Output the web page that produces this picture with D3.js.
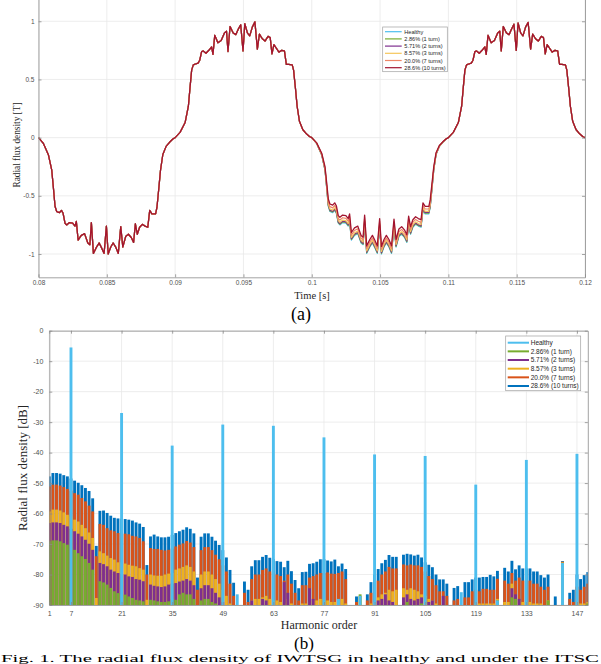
<!DOCTYPE html>
<html><head><meta charset="utf-8">
<script src="https://cdn.jsdelivr.net/npm/d3@7"></script>
<style>body{margin:0;background:#fff;} svg{display:block;}</style>
</head><body>
<svg id="chart" width="601" height="664"></svg>
<script>
// ================= Panel (a): radial flux density vs time =================
const timeTicks = [0.08,0.085,0.09,0.095,0.1,0.105,0.11,0.115,0.12];
const bTicks = [-1,-0.5,0,0.5,1];
const waveSeries = ["Healthy","2.86% (1 turn)","5.71% (2 turns)","8.57% (3 turns)","20.0% (7 turns)","28.6% (10 turns)"];
const waveColors = ["#4DBEEE","#77AC30","#7E2F8E","#F5C65A","#EE8666","#A2142F"];
const halfStarts = [0.08,0.09,0.10,0.11];
// sample instants inside each half cycle (ms from the half-cycle start)
const halfOffsetMs = [0,0.36,0.73,0.97,1.09,1.21,1.33,1.53,1.68,1.80,1.94,2.06,2.26,2.50,2.67,2.77,2.90,3.13,3.37,3.61,3.76,3.87,4.02,4.25,4.44,4.61,4.80,4.97,5.10,5.29,5.46,5.65,5.84,6.02,6.17,6.38,6.58,6.80,6.96,7.09,7.23,7.40,7.60,7.80,8.00,8.14,8.30,8.57,8.67,8.81,8.93,9.10,9.34,9.59,9.83,10.0];
// 0.08-0.09 s (all cases overlap)
const waveNeg1 = [0,-0.05,-0.15,-0.28,-0.43,-0.59,-0.635,-0.645,-0.625,-0.65,-0.735,-0.75,-0.73,-0.735,-0.76,-0.72,-0.88,-0.84,-0.825,-0.905,-0.92,-0.73,-0.995,-0.94,-0.905,-0.945,-0.995,-0.76,-1.0,-0.94,-0.905,-0.94,-0.995,-0.765,-0.94,-0.85,-0.83,-0.86,-0.90,-0.74,-0.83,-0.77,-0.745,-0.76,-0.77,-0.625,-0.655,-0.655,-0.60,-0.43,-0.28,-0.145,-0.075,-0.04,-0.012,0];
// 0.09-0.10 s (all cases overlap)
const wavePos1 = [0,0.045,0.13,0.27,0.43,0.58,0.625,0.635,0.64,0.665,0.74,0.745,0.725,0.755,0.78,0.715,0.88,0.815,0.835,0.90,0.915,0.74,0.955,0.90,0.885,0.93,0.97,0.745,0.98,0.90,0.875,0.95,0.995,0.76,0.89,0.85,0.83,0.87,0.86,0.72,0.80,0.77,0.735,0.75,0.745,0.63,0.63,0.625,0.58,0.42,0.27,0.14,0.07,0.035,0.01,0];
// 0.10-0.11 s, one row per case (faulted cases lifted)
const waveNeg2Healthy = [0,-0.05,-0.15,-0.28,-0.43,-0.59,-0.635,-0.645,-0.625,-0.65,-0.735,-0.75,-0.73,-0.735,-0.76,-0.72,-0.88,-0.84,-0.825,-0.905,-0.92,-0.73,-0.995,-0.94,-0.905,-0.945,-0.995,-0.76,-1.0,-0.94,-0.905,-0.94,-0.995,-0.765,-0.94,-0.85,-0.83,-0.86,-0.90,-0.74,-0.83,-0.77,-0.745,-0.76,-0.77,-0.625,-0.655,-0.655,-0.60,-0.43,-0.28,-0.145,-0.075,-0.04,-0.012,0];
const waveNeg2Turn1 = [0,-0.0495,-0.1485,-0.277,-0.4257,-0.584,-0.629,-0.639,-0.619,-0.644,-0.729,-0.744,-0.724,-0.729,-0.754,-0.714,-0.874,-0.834,-0.819,-0.899,-0.914,-0.724,-0.989,-0.934,-0.899,-0.939,-0.989,-0.754,-0.994,-0.934,-0.899,-0.934,-0.989,-0.759,-0.934,-0.844,-0.824,-0.854,-0.894,-0.734,-0.824,-0.764,-0.739,-0.754,-0.764,-0.619,-0.649,-0.649,-0.594,-0.4257,-0.277,-0.1435,-0.0742,-0.0396,-0.012,0];
const waveNeg2Turn2 = [0,-0.049,-0.147,-0.2745,-0.421,-0.578,-0.623,-0.633,-0.613,-0.638,-0.723,-0.738,-0.718,-0.723,-0.748,-0.708,-0.868,-0.828,-0.813,-0.893,-0.908,-0.718,-0.983,-0.928,-0.893,-0.933,-0.983,-0.748,-0.988,-0.928,-0.893,-0.928,-0.983,-0.753,-0.928,-0.838,-0.818,-0.848,-0.888,-0.728,-0.818,-0.758,-0.733,-0.748,-0.758,-0.613,-0.643,-0.643,-0.588,-0.421,-0.2745,-0.142,-0.0735,-0.039,-0.012,0];
const waveNeg2Turn3 = [0,-0.048,-0.1445,-0.27,-0.414,-0.568,-0.613,-0.623,-0.603,-0.628,-0.713,-0.728,-0.708,-0.713,-0.738,-0.698,-0.858,-0.818,-0.803,-0.883,-0.898,-0.708,-0.973,-0.918,-0.883,-0.923,-0.973,-0.738,-0.978,-0.918,-0.883,-0.918,-0.973,-0.743,-0.918,-0.828,-0.808,-0.838,-0.878,-0.718,-0.808,-0.748,-0.723,-0.738,-0.748,-0.603,-0.633,-0.633,-0.578,-0.414,-0.27,-0.1397,-0.072,-0.0385,-0.0116,0];
const waveNeg2Turn7 = [0,-0.0465,-0.1395,-0.260,-0.400,-0.549,-0.593,-0.603,-0.583,-0.608,-0.693,-0.708,-0.688,-0.693,-0.718,-0.678,-0.838,-0.798,-0.783,-0.863,-0.878,-0.688,-0.953,-0.898,-0.863,-0.903,-0.953,-0.718,-0.958,-0.898,-0.863,-0.898,-0.953,-0.723,-0.898,-0.808,-0.788,-0.818,-0.858,-0.698,-0.788,-0.728,-0.703,-0.718,-0.728,-0.583,-0.613,-0.613,-0.558,-0.400,-0.260,-0.135,-0.070,-0.037,-0.011,0];
const waveNeg2Turn10 = [0,-0.045,-0.134,-0.25,-0.383,-0.526,-0.570,-0.580,-0.560,-0.585,-0.670,-0.685,-0.665,-0.670,-0.695,-0.655,-0.815,-0.775,-0.760,-0.840,-0.855,-0.665,-0.930,-0.875,-0.840,-0.880,-0.930,-0.695,-0.935,-0.875,-0.840,-0.875,-0.930,-0.700,-0.875,-0.785,-0.765,-0.795,-0.835,-0.675,-0.765,-0.705,-0.680,-0.695,-0.705,-0.560,-0.590,-0.590,-0.535,-0.383,-0.250,-0.129,-0.067,-0.036,-0.011,0];
// 0.11-0.12 s (all cases overlap)
const wavePos2 = [0,0.045,0.13,0.27,0.43,0.58,0.625,0.635,0.64,0.665,0.74,0.745,0.725,0.755,0.78,0.715,0.88,0.815,0.835,0.90,0.915,0.745,0.955,0.90,0.885,0.93,0.975,0.75,0.985,0.90,0.875,0.95,0.99,0.76,0.89,0.85,0.83,0.87,0.86,0.72,0.80,0.77,0.735,0.75,0.745,0.63,0.63,0.625,0.58,0.42,0.27,0.14,0.07,0.035,0.01,0];
const waveNeg2BySeries = [waveNeg2Healthy,waveNeg2Turn1,waveNeg2Turn2,waveNeg2Turn3,waveNeg2Turn7,waveNeg2Turn10];

// ================= Panel (b): harmonic spectrum =================
const harmonicTicks = [1,7,21,35,49,63,77,91,105,119,133,147];
const dbTicks = [0,-10,-20,-30,-40,-50,-60,-70,-80,-90];
const specSeries = ["Healthy","2.86% (1 turn)","5.71% (2 turns)","8.57% (3 turns)","20.0% (7 turns)","28.6% (10 turns)"];
const specColors = ["#4DBEEE","#77AC30","#7E2F8E","#EDB120","#D95319","#0072BD"];
// healthy spectrum: only the listed harmonics have a bar above -90 dB
const healthyOrders = [7,21,35,49,53,63,77,81,87,91,105,115,119,125,133,143,147];
const healthyDb = [-5.5,-27,-37.7,-30.8,-86.5,-31.2,-35,-88,-87,-40.6,-41.1,-85.8,-50.5,-88.5,-42.4,-76.2,-40.4];
// faulted spectra: value for harmonic order 1..150 (null = below -90 dB)
const specTurn10 = [-47.8,-46.7,-46.7,-46.9,-47.4,-47.8,-48.5,-49.2,-49.9,-50.7,
 -51.6,-52.6,-55.0,-70.6,-59.1,-59.0,-59.8,-60.7,-61.4,-61.6,
 -61.7,-61.8,-62.0,-62.3,-62.9,-63.3,-64.4,-76.9,-67.5,-66.9,
 -67.5,-67.8,-67.8,-67.6,-67.0,-66.4,-65.8,-65.3,-64.5,-65.0,
 -66.5,-81.0,-67.6,-66.5,-66.5,-67.6,-68.9,-70.3,-72.0,-74.4,
 -78.5,-82.7,null,null,-82.3,-85.0,-77.3,-75.3,-75.3,-74.2,
 -73.6,-74.5,-75.0,-75.6,-75.8,-77.6,-75.5,-78.9,-81.8,-84.5,
 -79.2,-79.1,-76.5,-76.3,-75.8,-75.0,-75.0,-75.4,-75.7,-75.1,
 -77.3,-76.4,-78.2,null,null,-87.2,null,null,-86.5,-82.5,
 -80.0,-78.2,-76.3,-75.2,-73.6,-74.2,-74.2,null,-73.5,-73.2,
 -73.4,-73.8,-73.5,-74.4,-76.0,-76.8,-77.6,-80.0,-81.6,-81.6,
 -83.0,null,-84.4,-83.8,null,-82.5,-82.5,-81.6,-81.0,-81.0,
 -80.8,-80.8,-80.1,-80.6,-78.8,null,-77.8,-79.0,-75.5,-78.3,
 -77.0,-78.0,-78.0,-78.0,-79.0,-79.0,-80.2,-81.0,-80.0,null,
 -87.2,null,-75.6,null,-86.0,-85.0,-80.0,-81.5,-80.2,-79.2];
const specTurn7 = [-51.1,-50.5,-50.5,-50.8,-51.3,-51.9,-52.5,-53.3,-53.8,-54.9,
 -56.0,-57.4,-59.3,-74.0,-63.4,-63.7,-64.8,-65.5,-65.8,-66.4,
 -66.5,-66.6,-66.8,-67.3,-67.5,-68.0,-69.1,-80.0,-71.3,-71.6,
 -71.6,-71.9,-72.1,-71.9,-71.5,-70.8,-70.2,-69.8,-69.0,-69.5,
 -71.0,-85.0,-72.0,-71.0,-71.0,-72.0,-73.5,-75.0,-77.0,-79.0,
 -83.0,-87.0,null,null,-86.0,-89.0,-81.5,-80.0,-80.0,-78.5,
 -78.0,-79.0,-79.5,-80.0,-80.5,-82.0,-80.0,-83.0,-86.0,-88.5,
 -83.5,-83.5,-81.0,-80.5,-80.0,-79.5,-79.5,-79.3,-79.7,-79.8,
 -79.5,-79.0,-81.5,null,null,-89.0,null,null,-88.5,-86.0,
 -84.0,-82.0,-80.0,-79.0,-77.5,-78.0,-78.0,null,-76.7,-77.0,
 -76.7,-77.0,-77.0,-77.5,-79.0,-80.5,-81.5,-83.5,-85.5,-85.5,
 -87.0,null,-88.5,-88.0,null,-87.5,-87.5,-85.5,-85.0,-85.5,
 -84.7,-84.7,-85.0,-85.0,-81.4,null,-82.0,-83.0,-79.5,-82.0,
 -81.0,-82.0,-82.0,-82.0,-83.0,-83.0,-84.0,-85.0,-84.0,null,
 null,null,-75.8,null,-88.0,-89.0,-84.0,-85.0,-84.0,-83.0];
const specTurn3 = [-59.3,-58.7,-58.7,-59.0,-59.6,-60.4,-61.0,-62.0,-62.6,-63.7,
 -64.8,-66.2,-68.0,-87.7,-72.4,-73.0,-73.8,-74.6,-75.1,-76.0,
 -76.0,-76.4,-76.8,-77.1,-77.3,-77.9,-78.4,-88.3,-80.0,-80.3,
 -80.4,-80.4,-80.0,-79.7,-79.5,-78.4,-78.0,-77.5,-77.0,-77.5,
 -79.0,null,-80.0,-79.0,-79.0,-80.0,-81.5,-83.0,-85.0,-87.0,
 -89.5,null,null,null,null,null,-88.5,-88.0,-88.0,-87.5,
 -87.0,-88.0,-88.5,-88.5,-89.0,-89.5,-88.0,-89.5,null,null,
 -89.5,-89.5,-89.0,-88.5,-88.5,-88.0,-88.0,-88.5,-89.0,-89.0,
 -88.5,-88.0,-89.5,null,null,null,-87.0,null,null,-89.5,
 -89.0,-87.5,-86.5,-86.0,-85.0,-85.5,-85.0,null,-84.5,-85.0,
 -84.5,-85.0,-85.5,-86.5,-87.0,-88.0,-88.5,-89.5,null,null,
 null,null,null,null,null,null,null,null,-89.5,-89.5,
 -89.5,-89.5,-89.5,-89.5,-88.0,null,-89.0,-89.0,-83.0,-89.0,
 -88.5,-89.0,-89.0,-89.0,-89.5,-89.5,-89.5,null,-88.5,null,
 null,null,-76.0,null,null,null,-89.0,-89.5,-89.5,-89.0];
const specTurn2 = [-63.1,-62.9,-62.9,-63.1,-63.7,-64.2,-65.0,-65.8,-66.6,-67.5,
 -68.6,-69.9,-71.9,null,-76.2,-76.6,-77.3,-78.4,-79.0,-79.5,
 -79.8,-80.0,-80.6,-80.8,-81.5,-81.7,-82.2,null,-83.3,-83.7,
 -83.9,-84.1,-83.9,-83.3,-83.0,-82.8,-82.3,-82.0,-81.5,-82.0,
 -83.5,null,-84.5,-83.5,-83.5,-84.5,-86.0,-87.5,-89.0,null,
 null,null,null,null,null,null,-88.5,null,null,-88.0,
 -88.5,null,null,null,null,-82.5,-86.0,null,null,null,
 null,null,-84.5,-88.0,null,null,null,null,null,null,
 null,null,null,null,null,null,null,null,null,null,
 null,-88.5,-88.0,-86.5,-88.5,-89.0,null,null,-87.5,-86.5,
 -88.0,-88.5,-88.0,-87.5,null,-89.0,-88.5,null,null,-87.0,
 null,null,null,null,null,null,null,null,null,null,
 null,null,null,null,null,null,null,null,-84.5,-86.5,
 -88.0,null,null,null,null,null,null,null,null,null,
 null,null,null,null,null,null,null,null,null,null];
const specTurn1 = [-69.1,-68.8,-68.8,-69.1,-69.7,-70.2,-71.0,-71.9,-73.0,-74.0,
 -74.9,-76.2,-78.4,null,-82.2,-82.6,-83.3,-84.4,-85.5,-86.1,
 -86.5,-86.6,-87.2,-87.7,-88.3,-88.5,-88.8,null,-88.3,-88.5,
 -88.8,-89.0,-89.0,-88.8,-88.0,-88.3,-86.5,-86.0,-86.5,-86.5,
 -88.0,null,-88.5,-88.0,-88.0,-89.0,-89.5,null,null,null,
 null,null,null,null,null,null,null,null,null,null,
 null,null,null,null,null,null,null,null,null,null,
 null,null,null,null,null,null,null,null,null,null,
 null,null,null,null,null,null,-86.5,null,null,null,
 null,null,null,null,null,null,null,null,null,-89.0,
 null,null,null,-89.5,null,null,null,null,null,null,
 null,null,null,null,null,null,null,null,null,null,
 null,null,null,null,-88.5,null,null,null,-87.5,-88.0,
 null,null,null,null,null,null,null,null,-88.5,null,
 null,null,null,null,null,null,null,null,null,-89.5];

// ====================== drawing ======================
const svg = d3.select("#chart");
const axisColor = "#8c8c8c", gridColor = "#e8e8e8", tickTextColor = "#505050";
const sans = "'Liberation Sans', Arial, Helvetica, sans-serif";
const serif = "'Liberation Serif', 'Times New Roman', serif";
const fmt = d => String(+(+d).toFixed(3));

function styleAxis(g, fs){
  g.select(".domain").attr("stroke", axisColor).attr("stroke-width", 0.8);
  g.selectAll(".tick line").attr("stroke", axisColor).attr("stroke-width", 0.8);
  g.selectAll(".tick text").attr("fill", tickTextColor).style("font-family", sans).style("font-size", fs + "px");
}

// ---------- panel (a) ----------
const A = {l:38.5, r:585, t:-2, b:277.3};
const xA = d3.scaleLinear().domain([0.08,0.12]).range([A.l, A.r]);
const yA = d3.scaleLinear().domain([-1.2,1.2]).range([A.b, A.t]);
const gA = svg.append("g");
gA.append("g").selectAll("line").data(timeTicks).join("line")
  .attr("x1", d => xA(d)).attr("x2", d => xA(d)).attr("y1", A.t).attr("y2", A.b)
  .attr("stroke", gridColor).attr("stroke-width", 0.8);
gA.append("g").selectAll("line").data(bTicks).join("line")
  .attr("x1", A.l).attr("x2", A.r).attr("y1", d => yA(d)).attr("y2", d => yA(d))
  .attr("stroke", gridColor).attr("stroke-width", 0.8);

svg.append("clipPath").attr("id","clipA").append("rect")
  .attr("x", A.l).attr("y", A.t).attr("width", A.r - A.l).attr("height", A.b - A.t);

const line = d3.line().x(d => xA(d[0])).y(d => yA(d[1]));
const halves = [waveNeg1, wavePos1, null, wavePos2];
const wavePoints = waveSeries.map((name, s) => {
  const pts = [];
  halfStarts.forEach((t0, k) => {
    const vals = k === 2 ? waveNeg2BySeries[s] : halves[k];
    halfOffsetMs.forEach((ms, i) => pts.push([t0 + ms / 1000, vals[i]]));
  });
  return pts;
});
gA.append("g").attr("clip-path","url(#clipA)")
  .selectAll("path").data(wavePoints).join("path")
  .attr("d", line).attr("fill","none")
  .attr("stroke", (d, i) => waveColors[i])
  .attr("stroke-width", (d, i) => i === 5 ? 1.3 : 1.2)
  .attr("stroke-linejoin","round");

const axAb = gA.append("g").attr("transform", `translate(0,${A.b})`)
  .call(d3.axisBottom(xA).tickValues(timeTicks).tickSizeInner(-3).tickSizeOuter(0).tickPadding(3.5).tickFormat(fmt));
styleAxis(axAb, 6.5);
const axAl = gA.append("g").attr("transform", `translate(${A.l},0)`)
  .call(d3.axisLeft(yA).tickValues(bTicks).tickSizeInner(-3).tickSizeOuter(0).tickPadding(4).tickFormat(fmt));
styleAxis(axAl, 6.5);
const axAr = gA.append("g").attr("transform", `translate(${A.r},0)`)
  .call(d3.axisRight(yA).tickValues(bTicks).tickSizeInner(-3).tickSizeOuter(0).tickFormat(""));
styleAxis(axAr, 6.5);

gA.append("text").attr("x", 312).attr("y", 298.5).attr("text-anchor","middle")
  .style("font-family", serif).style("font-size","10.5px").attr("fill","#262626").text("Time [s]");
gA.append("text").attr("transform","translate(19.5,145) rotate(-90)").attr("text-anchor","middle")
  .style("font-family", serif).style("font-size","9.3px").attr("fill","#262626").text("Radial flux density [T]");
svg.append("text").attr("x", 301).attr("y", 319.5).attr("text-anchor","middle")
  .style("font-family", serif).style("font-size","18px").attr("fill","#000").text("(a)");

// legend (a)
const legA = gA.append("g");
legA.append("rect").attr("x",382.7).attr("y",27).attr("width",64.6).attr("height",44.7)
  .attr("fill","#fff").attr("stroke","#a0a0a0").attr("stroke-width",0.7);
waveSeries.forEach((name, i) => {
  const y = 31.7 + i * 7.2;
  legA.append("line").attr("x1",385).attr("x2",401.7).attr("y1",y).attr("y2",y)
    .attr("stroke", waveColors[i]).attr("stroke-width",1.2);
  legA.append("text").attr("x",404.3).attr("y",y + 2).style("font-family",sans)
    .style("font-size","5.6px").attr("fill","#262626").text(name);
});

// ---------- panel (b) ----------
const B = {l:49.3, r:587.8, t:330.7, b:605};
const xB = d3.scaleLinear().domain([1,150]).range([B.l, B.r]);
const yB = d3.scaleLinear().domain([-90,0]).range([B.b, B.t]);
const gB = svg.append("g");
gB.append("g").selectAll("line").data(harmonicTicks).join("line")
  .attr("x1", d => xB(d)).attr("x2", d => xB(d)).attr("y1", B.t).attr("y2", B.b)
  .attr("stroke", gridColor).attr("stroke-width", 0.8);
gB.append("g").selectAll("line").data(dbTicks).join("line")
  .attr("x1", B.l).attr("x2", B.r).attr("y1", d => yB(d)).attr("y2", d => yB(d))
  .attr("stroke", gridColor).attr("stroke-width", 0.8);

svg.append("clipPath").attr("id","clipB").append("rect")
  .attr("x", B.l).attr("y", B.t).attr("width", B.r - B.l).attr("height", B.b - B.t);

const bw = 0.8 * (xB(2) - xB(1));
const faultArrays = [specTurn10, specTurn7, specTurn3, specTurn2, specTurn1];
const faultColorIdx = [5, 4, 3, 2, 1];
const barsG = gB.append("g").attr("clip-path","url(#clipB)");
faultArrays.forEach((arr, k) => {
  const data = arr.map((v, i) => ({h: i + 1, v})).filter(d => d.v !== null);
  barsG.append("g").selectAll("rect").data(data).join("rect")
    .attr("x", d => xB(d.h) - bw / 2).attr("width", bw)
    .attr("y", d => yB(d.v)).attr("height", d => yB(-90) - yB(d.v))
    .attr("fill", specColors[faultColorIdx[k]]);
});
const healthyData = healthyOrders.map((h, i) => ({h, v: healthyDb[i]}));
barsG.append("g").selectAll("rect").data(healthyData).join("rect")
  .attr("x", d => xB(d.h) - bw / 2).attr("width", bw)
  .attr("y", d => yB(d.v)).attr("height", d => yB(-90) - yB(d.v))
  .attr("fill", specColors[0]);

const axBb = gB.append("g").attr("transform", `translate(0,${B.b})`)
  .call(d3.axisBottom(xB).tickValues(harmonicTicks).tickSizeInner(-3).tickSizeOuter(0).tickPadding(6).tickFormat(fmt));
styleAxis(axBb, 7);
const axBt = gB.append("g").attr("transform", `translate(0,${B.t})`)
  .call(d3.axisTop(xB).tickValues(harmonicTicks).tickSizeInner(-3).tickSizeOuter(0).tickFormat(""));
styleAxis(axBt, 7);
const axBl = gB.append("g").attr("transform", `translate(${B.l},0)`)
  .call(d3.axisLeft(yB).tickValues(dbTicks).tickSizeInner(-3).tickSizeOuter(0).tickPadding(6).tickFormat(fmt));
styleAxis(axBl, 7);
const axBr = gB.append("g").attr("transform", `translate(${B.r},0)`)
  .call(d3.axisRight(yB).tickValues(dbTicks).tickSizeInner(-3).tickSizeOuter(0).tickFormat(""));
styleAxis(axBr, 7);

gB.append("text").attr("x", 319).attr("y", 629).attr("text-anchor","middle")
  .style("font-family", serif).style("font-size","12px").attr("fill","#262626").text("Harmonic order");
gB.append("text").attr("transform","translate(27,468) rotate(-90)").attr("text-anchor","middle")
  .style("font-family", serif).style("font-size","13px").attr("fill","#262626").text("Radial flux density [dB]");
svg.append("text").attr("x", 304).attr("y", 649).attr("text-anchor","middle")
  .style("font-family", serif).style("font-size","17px").attr("fill","#000").text("(b)");
svg.append("text").attr("x", 1).attr("y", 661.8).attr("text-anchor","start")
  .attr("textLength", 598).attr("lengthAdjust", "spacingAndGlyphs")
  .style("font-family", serif).style("font-size","9.4px").attr("fill","#000")
  .text("Fig. 1.  The radial flux density of IWTSG in healthy and under the ITSC");

// legend (b)
const legB = gB.append("g");
legB.append("rect").attr("x",505.7).attr("y",336).attr("width",75).attr("height",54.7)
  .attr("fill","#fff").attr("stroke","#a0a0a0").attr("stroke-width",0.7);
specSeries.forEach((name, i) => {
  const y = 342.7 + i * 8.66;
  legB.append("line").attr("x1",507.7).attr("x2",529).attr("y1",y).attr("y2",y)
    .attr("stroke", specColors[i]).attr("stroke-width",2);
  legB.append("text").attr("x",530.7).attr("y",y + 2.3).style("font-family",sans)
    .style("font-size","6.5px").attr("fill","#262626").text(name);
});
</script>
</body></html>
